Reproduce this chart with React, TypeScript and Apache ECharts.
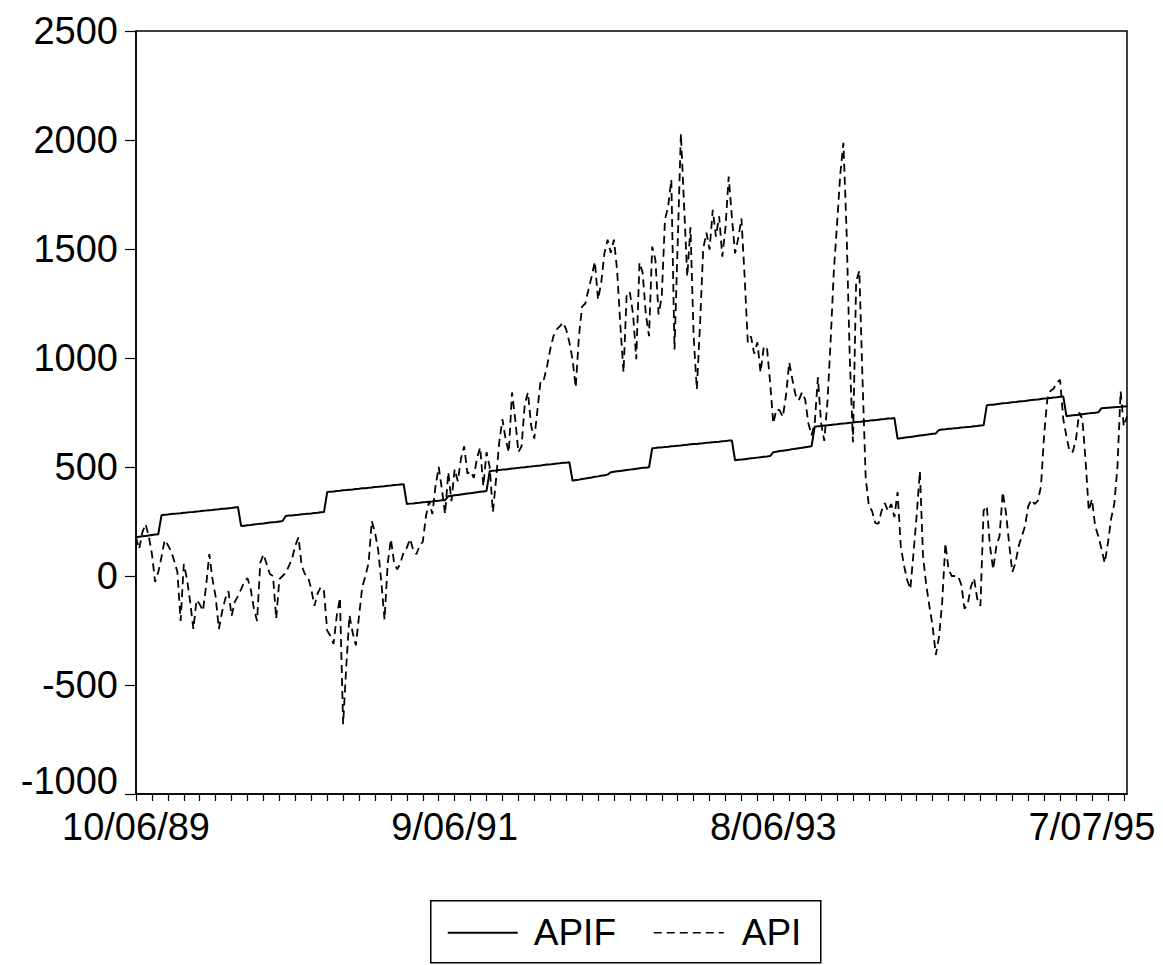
import React, { useEffect, useRef } from "react";
import * as echarts from "echarts";

// Weekly observations starting 10/06/89 (Fridays)
const START_MS = Date.UTC(1989, 9, 6);
const WEEK_MS = 7 * 86400000;
const N_OBS = 312;
const categories: string[] = Array.from({ length: N_OBS }, (_, i) => {
  const d = new Date(START_MS + i * WEEK_MS);
  return `${d.getUTCMonth() + 1}/${String(d.getUTCDate()).padStart(2, "0")}/${String(d.getUTCFullYear()).slice(2)}`;
});

const yTicks = { min: -1000, max: 2500, interval: 500 };

const apifValues: number[] = [
  178, 180, 182, 184, 186, 188, 190, 192,
  279, 281, 282, 284, 285, 287, 288, 290, 291, 293, 294, 296, 297, 299, 300, 302, 303, 305, 306, 308, 309, 311, 312, 314, 316,
  229, 231, 233, 234, 236, 238, 240, 241, 243, 245, 247, 248, 250, 252,
  275, 277, 278, 280, 281, 283, 284, 286, 287, 289, 290, 292, 293,
  385, 387, 388, 390, 391, 393, 394, 396, 397, 399, 400, 402, 403, 405, 406, 408, 409, 411, 412, 414, 415, 417, 418, 420, 421,
  330, 332, 333, 335, 336, 338, 339, 341, 342, 344, 345, 347, 348,
  366, 368, 370, 372, 374, 376, 378, 380, 382, 384, 386, 388, 390,
  481, 483, 484, 486, 488, 489, 491, 493, 494, 496, 498, 499, 501, 502, 504, 506, 507, 509, 511, 512, 514, 516, 517, 519, 520, 522,
  437, 440, 442, 445, 447, 450, 452, 455, 457, 460, 462, 465,
  476, 478, 480, 482, 484, 486, 488, 490, 492, 494, 496, 497, 499,
  586, 587, 589, 590, 592, 593, 595, 596, 598, 599, 601, 602, 604, 605, 606, 608, 609, 611, 612, 614, 615, 616, 618, 619, 621, 622,
  531, 533, 534, 536, 538, 540, 541, 543, 545, 547, 548, 550,
  568, 570, 573, 575, 577, 579, 582, 584, 586, 588, 591, 593, 595,
  685, 687, 688, 690, 691, 693, 695, 696, 698, 699, 701, 703, 704, 706, 707, 709, 711, 712, 714, 715, 717, 719, 720, 722, 723, 725,
  630, 632, 634, 636, 638, 640, 642, 644, 646, 648, 650, 652, 654,
  670, 672, 673, 675, 676, 678, 679, 681, 682, 684, 685, 687, 688, 690, 691,
  783, 785, 786, 788, 790, 792, 793, 795, 797, 798, 800, 802, 803, 805, 807, 809, 810, 812, 814, 815, 817, 819, 820, 822, 824,
  733, 735, 737, 738, 740, 742, 744, 746, 748, 749, 751,
  770, 771, 772, 773, 774, 775, 776, 778, 779,
];

const apiValues: number[] = [
  178, 124, 200, 238, 183, 101, -27, 18, 87, 165,
  142, 114, 69, 18, -206, 55, -14, -119, -243, -110,
  -130, -160, -46, 101, -14, -96, -243, -165, -105, -69,
  -183, -119, -92, -60, -27, -10, -60, -150, -206, 60,
  100, 55, 9, 0, -197, -14, 0, 15, 46, 80,
  140, 178, 46, 9, -5, -60, -137, -80, -50, -70,
  -250, -275, -311, -183, -100, -680, -412, -180, -260, -318,
  -183, -50, 0, 60, 252, 200, 120, -30, -200, 60,
  169, 60, 30, 60, 110, 130, 170, 120, 100, 140,
  156, 275, 343, 284, 412, 500, 398, 284, 476, 343,
  490, 435, 540, 595, 470, 480, 450, 540, 590, 412,
  568, 500, 293, 444, 614, 719, 627, 568, 842, 720,
  568, 595, 788, 842, 690, 630, 765, 900, 902, 962,
  1040, 1100, 1131, 1145, 1163, 1131, 1072, 994, 865, 1100,
  1236, 1250, 1314, 1374, 1442, 1268, 1346, 1480, 1543, 1483,
  1543, 1400, 1150, 934, 1300, 1300, 1200, 994, 1438, 1392,
  1200, 1100, 1511, 1450, 1200, 1282, 1635, 1694, 1818, 1039,
  1529, 2030, 1700, 1374, 1600, 1100, 856, 1150, 1500, 1575,
  1497, 1680, 1557, 1650, 1465, 1600, 1832, 1648, 1480, 1550,
  1640, 1374, 1072, 1099, 1020, 1072, 934, 1050, 1050, 888,
  700, 765, 760, 730, 830, 980, 900, 830, 806, 842,
  810, 701, 646, 700, 911, 700, 620, 800, 1080, 1400,
  1612, 1840, 1987, 1580, 998, 614, 1351, 1400, 900, 450,
  320, 298, 243, 240, 300, 334, 298, 330, 270, 385,
  137, 50, -18, -60, 105, 279, 480, 87, -40, -140,
  -230, -362, -280, -120, 150, 30, 0, 0, 0, -40,
  -150, -130, -50, -10, -105, -137, 300, 321, 137, 30,
  137, 183, 385, 293, 150, 18, 60, 137, 183, 229,
  320, 350, 330, 345, 410, 650, 811, 850, 860, 888,
  900, 719, 640, 570, 570, 627, 750, 719, 530, 300,
  353, 229, 183, 124, 60, 150, 261, 330, 500, 847,
  687, 733,
];

const seriesNames = ["APIF", "API"];

const FONT = "'Liberation Sans', Arial, Helvetica, sans-serif";
const API_DASH = [8, 5];

export default function App() {
  const ref = useRef<HTMLDivElement>(null);
  useEffect(() => {
    if (!ref.current) return;
    const chart = echarts.init(ref.current, undefined, { renderer: "svg" });
    chart.setOption({
      animation: false,
      backgroundColor: "#ffffff",
      grid: {
        left: 136,
        right: 36,
        top: 31,
        bottom: 171,
        show: true,
        borderColor: "#000",
        borderWidth: 1.5,
        containLabel: false,
      },
      legend: { show: false },
      graphic: [
        {
          type: "group",
          left: 430,
          top: 900,
          children: [
            {
              type: "rect",
              shape: { x: 0, y: 0, width: 390, height: 62 },
              style: { fill: "#fff", stroke: "#000", lineWidth: 1.5 },
            },
            {
              type: "line",
              shape: { x1: 17, y1: 32, x2: 87, y2: 32 },
              style: { stroke: "#000", lineWidth: 1.8 },
            },
            {
              type: "text",
              x: 103,
              y: 32,
              style: {
                text: seriesNames[0],
                font: `37px ${FONT}`,
                fill: "#000",
                textVerticalAlign: "middle",
                verticalAlign: "middle",
              },
            },
            {
              type: "line",
              shape: { x1: 223, y1: 32, x2: 293, y2: 32 },
              style: { stroke: "#000", lineWidth: 1.6, lineDash: API_DASH },
            },
            {
              type: "text",
              x: 311,
              y: 32,
              style: {
                text: seriesNames[1],
                font: `37px ${FONT}`,
                fill: "#000",
                textVerticalAlign: "middle",
                verticalAlign: "middle",
              },
            },
          ],
        },
      ],
      xAxis: {
        type: "category",
        data: categories,
        boundaryGap: false,
        axisLine: { onZero: false, lineStyle: { color: "#000", width: 1.5 } },
        axisTick: {
          show: true,
          interval: 4,
          length: 7,
          lineStyle: { color: "#000", width: 1.2 },
        },
        axisLabel: {
          interval: 99,
          color: "#000",
          fontFamily: FONT,
          fontSize: 38,
          margin: 14,
        },
        splitLine: { show: false },
      },
      yAxis: {
        type: "value",
        min: yTicks.min,
        max: yTicks.max,
        interval: yTicks.interval,
        axisLine: { show: true, lineStyle: { color: "#000", width: 1.5 } },
        axisTick: { show: true, length: 11, lineStyle: { color: "#000", width: 1.2 } },
        axisLabel: {
          color: "#000",
          fontFamily: FONT,
          fontSize: 38,
          margin: 18,
          formatter: (v: number) => (v === yTicks.min ? `{low|${v}}` : String(v)),
          rich: {
            low: {
              fontFamily: FONT,
              fontSize: 38,
              color: "#000",
              padding: [0, 0, 26, 0],
            },
          },
        },
        splitLine: { show: false },
      },
      series: [
        {
          name: seriesNames[0],
          type: "line",
          data: apifValues,
          symbol: "none",
          lineStyle: { color: "#000", width: 2, type: "solid" },
          itemStyle: { color: "#000" },
        },
        {
          name: seriesNames[1],
          type: "line",
          data: apiValues,
          symbol: "none",
          lineStyle: { color: "#000", width: 1.8, type: API_DASH },
          itemStyle: { color: "#000" },
        },
      ],
    });
    return () => chart.dispose();
  }, []);
  return (
    <div
      ref={ref}
      style={{ position: "fixed", left: 0, top: 0, width: 1163, height: 965, background: "#fff" }}
    />
  );
}
